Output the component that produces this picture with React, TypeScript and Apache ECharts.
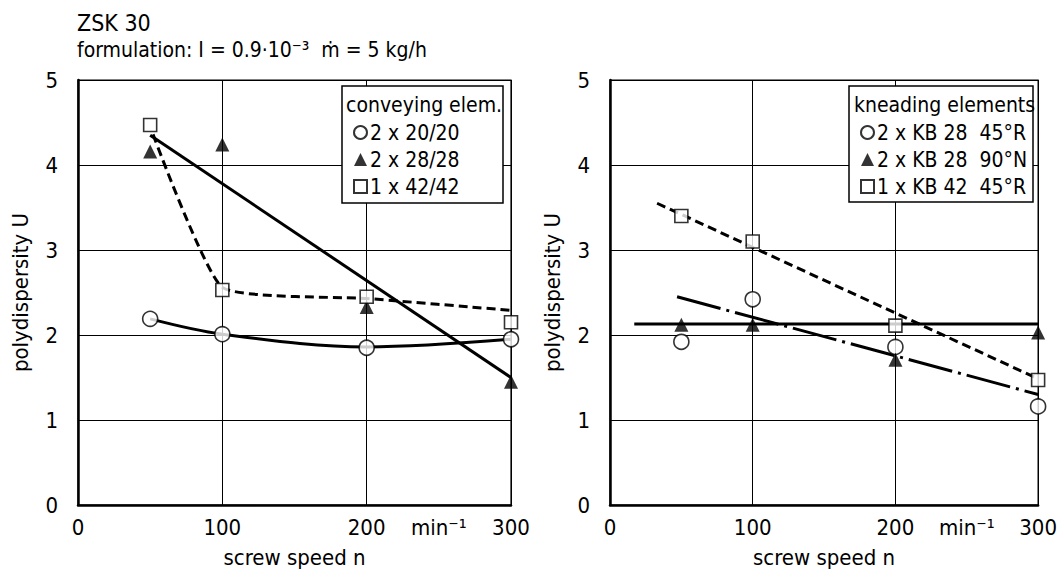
import React, { useEffect, useRef } from "react";
import * as echarts from "echarts";

const FONT = '"DejaVu Sans Condensed", "Liberation Sans Narrow", "Roboto Condensed", "Noto Sans", sans-serif';

// screw speeds (min^-1)
const speeds = [50, 100, 200, 300];

// left panel: conveying elements
const convNames = ["2 x 20/20", "2 x 28/28", "1 x 42/42"];
const convCircle = [2.19, 2.01, 1.85, 1.95];
const convTriangle = [4.16, 4.24, 2.33, 1.45];
const convSquare = [4.47, 2.53, 2.45, 2.15];
const convCircleFit = [[50, 2.19], [100, 2.01], [200, 1.86], [300, 1.95]];
const convTriangleFit = [[50, 4.35], [300, 1.5]];
const convSquareFit = [[52, 4.36], [100, 2.56], [200, 2.43], [300, 2.29]];

// right panel: kneading elements
const kneadNames = ["2 x KB 28  45°R", "2 x KB 28  90°N", "1 x KB 42  45°R"];
const kneadCircle = [1.92, 2.42, 1.86, 1.16];
const kneadTriangle = [2.12, 2.12, 1.71, 2.03];
const kneadSquare = [3.4, 3.1, 2.11, 1.47];
const kneadTriangleFit = [[17, 2.13], [300, 2.13]];
const kneadCircleFit = [[47, 2.45], [300, 1.3]];
const kneadSquareFit = [[33, 3.55], [298, 1.5]];

const xTickLabels = ["0", "100", "200", "300"];
const unitLabel = "min⁻¹";

const pts = (vals: number[]) => speeds.map((s, i) => [s, vals[i]]);

export default function App() {
  const ref = useRef<HTMLDivElement>(null);
  useEffect(() => {
    if (!ref.current) return;
    const chart = echarts.init(ref.current, undefined, { renderer: "svg" });
    const txt = { fontFamily: FONT, color: "#000" };
    const grids = [
      { left: 78, top: 80, width: 433, height: 427 },
      { left: 610, top: 80, width: 431, height: 426 },
    ];
    const mainX = (gi: number) => ({
      type: "value",
      gridIndex: gi,
      position: "bottom",
      min: 0,
      max: 300,
      interval: 100,
      axisLine: { lineStyle: { color: "#000", width: 2.5 } },
      axisTick: { show: false },
      axisLabel: {
        ...txt,
        fontSize: 22,
        margin: 11,
        formatter: (v: number) => xTickLabels[v / 100] ?? "",
      },
      splitLine: { show: true, lineStyle: { color: "#000", width: 1 } },
      name: "screw speed n",
      nameLocation: "middle",
      nameGap: 41,
      nameTextStyle: { ...txt, fontSize: 22 },
    });
    const unitX = (gi: number) => ({
      type: "value",
      gridIndex: gi,
      position: "bottom",
      min: 0,
      max: 300,
      interval: 50,
      axisLine: { show: false },
      axisTick: { show: false },
      splitLine: { show: false },
      axisLabel: {
        ...txt,
        fontSize: 22,
        margin: 11,
        formatter: (v: number) => (v === 250 ? unitLabel : ""),
      },
    });
    const yAx = (gi: number) => ({
      type: "value",
      gridIndex: gi,
      min: 0,
      max: 5,
      interval: 1,
      axisLine: { show: true, lineStyle: { color: "#000", width: 2.5 } },
      axisTick: { show: false },
      axisLabel: { ...txt, fontSize: 22, margin: 20 },
      splitLine: { show: true, lineStyle: { color: "#000", width: 1 } },
      name: "polydispersity U",
      nameLocation: "middle",
      nameGap: 47,
      nameTextStyle: { ...txt, fontSize: 22 },
    });
    const open = { color: "#fff", borderColor: "#000", borderWidth: 1.6 };
    const filled = { color: "#000", borderColor: "#000", borderWidth: 0 };
    const scatter = (name: string, xi: number, yi: number, vals: number[], symbol: string, size: number, style: any) => ({
      type: "scatter",
      name,
      xAxisIndex: xi,
      yAxisIndex: yi,
      data: pts(vals),
      symbol,
      symbolSize: size,
      itemStyle: style,
      z: 5,
    });
    const fit = (xi: number, yi: number, data: number[][], type: any, smooth: any = false) => ({
      type: "line",
      xAxisIndex: xi,
      yAxisIndex: yi,
      data,
      smooth,
      showSymbol: false,
      symbol: "none",
      lineStyle: { color: "#000", width: 3, type, cap: "butt" },
      z: 3,
      silent: true,
    });
    const legend = (names: string[], left: number) => ({
      orient: "vertical",
      left,
      top: 122,
      padding: 0,
      itemGap: 6,
      itemWidth: 13,
      itemHeight: 13,
      textStyle: { ...txt, fontSize: 21, padding: [0, 0, 0, -2] },
      data: names,
      selectedMode: false,
      z: 10,
    });
    chart.setOption({
      animation: false,
      backgroundColor: "#fff",
      grid: grids.map((g) => ({ ...g, show: true, borderColor: "#000", borderWidth: 1.2 })),
      xAxis: [mainX(0), unitX(0), mainX(1), unitX(1)],
      yAxis: [yAx(0), yAx(1)],
      legend: [legend(convNames, 353), legend(kneadNames, 860)],
      graphic: [
        { type: "text", left: 77, top: 11, style: { text: "ZSK 30", font: `23px ${FONT}`, fill: "#000" } },
        {
          type: "text",
          left: 77,
          top: 39,
          style: { text: "formulation: I = 0.9·10⁻³  ṁ = 5 kg/h", font: `21px ${FONT}`, fill: "#000" },
        },
        { type: "rect", shape: { x: 342, y: 86, width: 161, height: 117 }, style: { fill: "#fff", stroke: "#000", lineWidth: 1.5 }, z: 3 },
        { type: "text", x: 346, y: 94, style: { text: "conveying elem.", font: `21px ${FONT}`, fill: "#000" }, z: 10 },
        { type: "rect", shape: { x: 849, y: 86, width: 184, height: 116 }, style: { fill: "#fff", stroke: "#000", lineWidth: 1.5 }, z: 3 },
        { type: "text", x: 854, y: 94, style: { text: "kneading elements", font: `21px ${FONT}`, fill: "#000" }, z: 10 },
      ],
      series: [
        fit(0, 0, convCircleFit, "solid", 0.35),
        fit(0, 0, convTriangleFit, "solid"),
        fit(0, 0, convSquareFit, [9, 5], 0.15),
        scatter(convNames[0], 0, 0, convCircle, "circle", 15, open),
        scatter(convNames[1], 0, 0, convTriangle, "triangle", 14, filled),
        scatter(convNames[2], 0, 0, convSquare, "rect", 13, open),
        fit(2, 1, kneadTriangleFit, "solid"),
        fit(2, 1, kneadCircleFit, [45, 6, 3, 6]),
        fit(2, 1, kneadSquareFit, [9, 5]),
        scatter(kneadNames[0], 2, 1, kneadCircle, "circle", 15, open),
        scatter(kneadNames[1], 2, 1, kneadTriangle, "triangle", 14, filled),
        scatter(kneadNames[2], 2, 1, kneadSquare, "rect", 13, open),
      ],
    });
    return () => chart.dispose();
  }, []);
  return <div ref={ref} style={{ position: "fixed", left: 0, top: 0, width: 1060, height: 573 }} />;
}
